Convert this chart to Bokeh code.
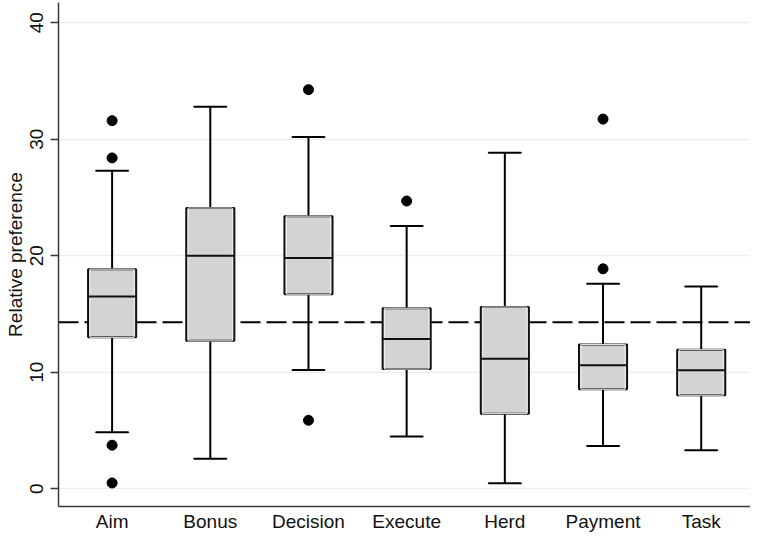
from bokeh.plotting import figure
from bokeh.models import ColumnDataSource, Range1d, FixedTicker, Span, Title
from bokeh.embed import file_html
from bokeh.resources import INLINE

# ---- data ----
categories = ["Aim", "Bonus", "Decision", "Execute", "Herd", "Payment", "Task"]
lower_whisker = [4.85, 2.57, 10.2, 4.48, 0.48, 3.68, 3.31]
q1 = [13.0, 12.7, 16.7, 10.28, 6.45, 8.54, 8.03]
median = [16.5, 20.0, 19.8, 12.85, 11.17, 10.6, 10.17]
q3 = [18.85, 24.1, 23.4, 15.5, 15.6, 12.39, 11.94]
upper_whisker = [27.3, 32.8, 30.2, 22.56, 28.85, 17.59, 17.36]
outlier_cat = ["Aim", "Aim", "Aim", "Aim", "Decision", "Decision",
               "Execute", "Payment", "Payment"]
outlier_val = [31.6, 28.4, 3.74, 0.5, 34.26, 5.88, 24.7, 31.73, 18.88]
reference_line = 100.0 / 7.0
y_ticks = [0, 10, 20, 30, 40]
y_label = "Relative preference"

FONT = "Liberation Sans"

xpos = list(range(len(categories)))
src = ColumnDataSource(dict(x=xpos, lw=lower_whisker, q1=q1, med=median,
                            q3=q3, uw=upper_whisker))
osrc = ColumnDataSource(dict(x=[categories.index(c) for c in outlier_cat],
                             y=outlier_val))

p = figure(width=750, height=534, output_backend="svg", toolbar_location=None,
           x_range=Range1d(-0.546, 6.502), y_range=Range1d(-1.52, 41.74),
           min_border_left=57, min_border_right=0, min_border_top=2,
           min_border_bottom=27)
p.outline_line_color = None
p.background_fill_color = "white"
p.border_fill_color = "white"

# grid
p.xgrid.grid_line_color = None
p.ygrid.grid_line_color = "#e8f0f2"
p.ygrid.grid_line_width = 1.5
p.yaxis.ticker = FixedTicker(ticks=y_ticks)
p.xaxis.ticker = FixedTicker(ticks=xpos)
p.xaxis.major_label_overrides = {i: c for i, c in enumerate(categories)}

# axes styling
for ax in (p.xaxis[0], p.yaxis[0]):
    ax.axis_line_color = "#3a3a3a"
    ax.axis_line_width = 1.5
    ax.major_label_text_font = FONT
    ax.major_label_text_font_size = "19px"
    ax.major_label_text_color = "#111111"
    ax.minor_tick_line_color = None
p.xaxis.major_tick_line_color = None
p.xaxis.major_tick_out = 0
p.xaxis.major_tick_in = 0
p.xaxis.major_label_standoff = 4
p.yaxis.major_tick_line_color = "#3a3a3a"
p.yaxis.major_tick_line_width = 1.5
p.yaxis.major_tick_out = 8
p.yaxis.major_tick_in = 0
p.yaxis.major_label_standoff = 7
p.yaxis.major_label_orientation = "vertical"

# y-axis title as a side title in the left border
p.add_layout(Title(text=y_label, align="center", text_font=FONT,
                   text_font_size="19px", text_font_style="normal",
                   text_color="#111111", standoff=4, offset=0), "left")

# reference dashed line (behind boxes)
p.add_layout(Span(location=reference_line, dimension="width",
                  line_color="black", line_width=2, line_dash="20 6",
                  level="underlay"))

# whiskers
p.segment(x0="x", y0="q3", x1="x", y1="uw", source=src,
          line_color="black", line_width=2)
p.segment(x0="x", y0="lw", x1="x", y1="q1", source=src,
          line_color="black", line_width=2)
p.rect(x="x", y="uw", width=0.33, height=0.0001, source=src,
       fill_color=None, line_color="black", line_width=2)
p.rect(x="x", y="lw", width=0.33, height=0.0001, source=src,
       fill_color=None, line_color="black", line_width=2)

# boxes
p.vbar(x="x", width=0.49, bottom="q1", top="q3", source=src,
       fill_color="#d3d3d3", line_color="#111111", line_width=2)
p.vbar(x="x", width=0.45, bottom="q1", top="q3", source=src,
       fill_color=None, line_color="#eeeeee", line_width=1)
# medians
p.rect(x="x", y="med", width=0.49, height=0.0001, source=src,
       fill_color=None, line_color="#111111", line_width=2)

# outliers
p.scatter(x="x", y="y", source=osrc, size=10, marker="circle",
          fill_color="black", line_color="black")

open("out.html", "w").write(file_html(p, INLINE))
